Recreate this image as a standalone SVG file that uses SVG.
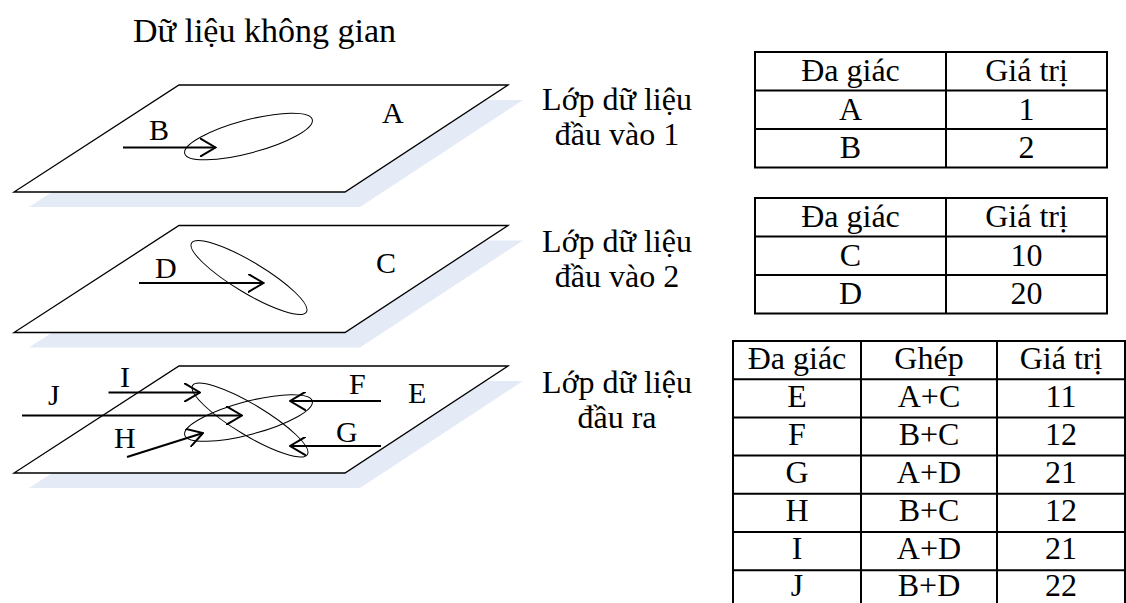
<svg xmlns="http://www.w3.org/2000/svg" width="1126" height="603" viewBox="0 0 1126 603">
<style>
text{font-family:"Liberation Serif","Times New Roman",serif;font-size:32px;fill:#000}
.c{text-anchor:middle}
.p{font-size:30px}
.plane{fill:#fff;stroke:#000;stroke-width:1.3}
.shadow{fill:#e4eaf6;stroke:none}
.ell{fill:none;stroke:#000;stroke-width:1}
.arr{fill:none;stroke:#000;stroke-width:2;marker-end:url(#open)}
.grid{fill:none;stroke:#000;stroke-width:2}
</style>
<defs>
<marker id="open" viewBox="0 0 17 19" refX="16" refY="9.5" markerWidth="17" markerHeight="19" markerUnits="userSpaceOnUse" orient="auto">
<path d="M0,0 L16,9.5 L0,19" fill="none" stroke="#000" stroke-width="2"/>
</marker>
</defs>
<rect width="1126" height="603" fill="#fff"/>
<text id="title" x="133" y="42" style="font-size:34px">Dữ liệu không gian</text>

<g id="layer1">
<polygon class="shadow" points="194,100 523,100 360,207 29,207"/>
<polygon class="plane" points="179,85 508,85 345,192 14,192"/>
<ellipse class="ell" cx="248.5" cy="136.5" rx="66" ry="16.5" transform="rotate(-15 248.5 136.5)"/>
<text class="p" x="149" y="140">B</text>
<text class="p" x="382" y="123">A</text>
</g>

<g id="layer2">
<polygon class="shadow" points="194,240.5 523,240.5 360,347.5 29,347.5"/>
<polygon class="plane" points="179,225.5 508,225.5 345,332.5 14,332.5"/>
<ellipse class="ell" cx="249" cy="277.5" rx="67" ry="15.5" transform="rotate(31 249 277.5)"/>
<text class="p" x="155" y="278">D</text>
<text class="p" x="376" y="273">C</text>
</g>

<g id="layer3">
<polygon class="shadow" points="194,381 523,381 360,488 29,488"/>
<polygon class="plane" points="179,366 508,366 345,473 14,473"/>
<ellipse class="ell" cx="250" cy="420" rx="67" ry="15.5" transform="rotate(31 250 420)"/>
<ellipse class="ell" cx="248.5" cy="418" rx="66" ry="16.5" transform="rotate(-15 248.5 418)"/>
<text class="p" x="120" y="387">I</text>
<text class="p" x="48" y="405">J</text>
<text class="p" x="114" y="448">H</text>
<text class="p" x="349" y="394">F</text>
<text class="p" x="336" y="442">G</text>
<text class="p" x="408" y="403">E</text>
</g>

<g id="connectors">
<line class="arr" x1="123" y1="147.5" x2="215.5" y2="147.5"/>
<line class="arr" x1="139" y1="283" x2="263.5" y2="283"/>
<line class="arr" x1="108.5" y1="392.5" x2="200" y2="392.5"/>
<line class="arr" x1="22" y1="415.5" x2="242" y2="415.5"/>
<line class="arr" x1="127" y1="457" x2="203" y2="433"/>
<line class="arr" x1="381" y1="401" x2="290" y2="401"/>
<line class="arr" x1="381" y1="446" x2="290" y2="446"/>
</g>

<g id="label1">
<text class="c" x="617" y="110">Lớp dữ liệu</text>
<text class="c" x="617" y="145">đầu vào 1</text>
</g>
<g id="label2">
<text class="c" x="617" y="252">Lớp dữ liệu</text>
<text class="c" x="617" y="287">đầu vào 2</text>
</g>
<g id="label3">
<text class="c" x="617" y="393">Lớp dữ liệu</text>
<text class="c" x="617" y="428">đầu ra</text>
</g>

<g id="table1">
<rect class="grid" x="755" y="52" width="352" height="115.5"/>
<line class="grid" x1="755" y1="90.5" x2="1107" y2="90.5"/>
<line class="grid" x1="755" y1="129" x2="1107" y2="129"/>
<line class="grid" x1="946" y1="52" x2="946" y2="167.5"/>
<text class="c" x="850.5" y="81">Đa giác</text>
<text class="c" x="1026.5" y="81">Giá trị</text>
<text class="c" x="850.5" y="119.5">A</text>
<text class="c" x="1026.5" y="119.5">1</text>
<text class="c" x="850.5" y="158">B</text>
<text class="c" x="1026.5" y="158">2</text>
</g>

<g id="table2">
<rect class="grid" x="755" y="198" width="352" height="115.5"/>
<line class="grid" x1="755" y1="236.5" x2="1107" y2="236.5"/>
<line class="grid" x1="755" y1="275" x2="1107" y2="275"/>
<line class="grid" x1="946" y1="198" x2="946" y2="313.5"/>
<text class="c" x="850.5" y="227">Đa giác</text>
<text class="c" x="1026.5" y="227">Giá trị</text>
<text class="c" x="850.5" y="265.5">C</text>
<text class="c" x="1026.5" y="265.5">10</text>
<text class="c" x="850.5" y="304">D</text>
<text class="c" x="1026.5" y="304">20</text>
</g>

<g id="table3">
<polyline class="grid" points="733,612 733,341 1125,341 1125,612"/>
<line class="grid" x1="733" y1="379.2" x2="1125" y2="379.2"/>
<line class="grid" x1="733" y1="417.4" x2="1125" y2="417.4"/>
<line class="grid" x1="733" y1="455.6" x2="1125" y2="455.6"/>
<line class="grid" x1="733" y1="493.8" x2="1125" y2="493.8"/>
<line class="grid" x1="733" y1="532" x2="1125" y2="532"/>
<line class="grid" x1="733" y1="570.2" x2="1125" y2="570.2"/>
<line class="grid" x1="861" y1="341" x2="861" y2="612"/>
<line class="grid" x1="997" y1="341" x2="997" y2="612"/>
<text class="c" x="797" y="369">Đa giác</text>
<text class="c" x="929" y="369">Ghép</text>
<text class="c" x="1061" y="369">Giá trị</text>
<text class="c" x="797" y="407">E</text><text class="c" x="929" y="407">A+C</text><text class="c" x="1061" y="407">11</text>
<text class="c" x="797" y="445">F</text><text class="c" x="929" y="445">B+C</text><text class="c" x="1061" y="445">12</text>
<text class="c" x="797" y="483">G</text><text class="c" x="929" y="483">A+D</text><text class="c" x="1061" y="483">21</text>
<text class="c" x="797" y="521">H</text><text class="c" x="929" y="521">B+C</text><text class="c" x="1061" y="521">12</text>
<text class="c" x="797" y="559">I</text><text class="c" x="929" y="559">A+D</text><text class="c" x="1061" y="559">21</text>
<text class="c" x="797" y="596">J</text><text class="c" x="929" y="596">B+D</text><text class="c" x="1061" y="596">22</text>
</g>
</svg>
